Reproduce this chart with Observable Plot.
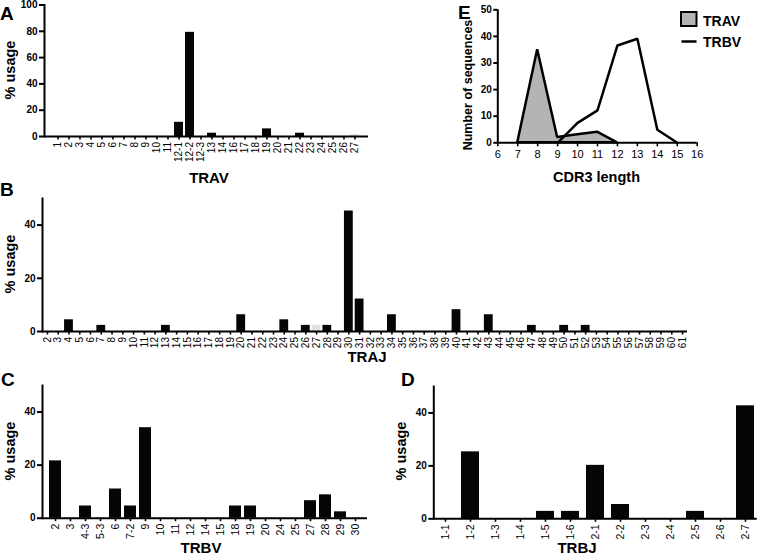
<!DOCTYPE html>
<html><head><meta charset="utf-8">
<script src="https://cdn.jsdelivr.net/npm/d3@7"></script>
<script src="https://cdn.jsdelivr.net/npm/@observablehq/plot@0.6"></script>
<style>
body{margin:0;background:#fff;}
#wrap{position:relative;width:760px;height:555px;overflow:hidden;background:#fff;font-family:"Liberation Sans",Arial,Helvetica,sans-serif;}
.p{position:absolute;}
.p svg{background:transparent;overflow:visible;}
#overlay{position:absolute;left:0;top:0;pointer-events:none;}
</style></head><body><div id="wrap"></div>
<script>
// ---- Panel A: TRAV usage ----
const travCats = ["1","2","3","4","5","6","7","8","9","10","11","12-1","12-2","12-3","13","14","16","17","18","19","20","21","22","23","24","25","26","27"];
const travVals = [0,0,0,0,0,0,0,0,0,0,0,10.8,79.2,0,2.5,0,0,0,0,5.8,0,0,2.5,0,0,0,0,0];
const travFaintCats = ["27"];
const travFaintVals = [1.5];
const usageTicksA = [0,20,40,60,80,100];

// ---- Panel B: TRAJ usage ----
const trajCats = ["2","3","4","5","6","7","8","9","10","11","12","13","14","15","16","17","18","19","20","21","22","23","24","25","26","27","28","29","30","31","32","33","34","35","36","37","38","39","40","41","42","43","44","45","46","47","48","49","50","51","52","53","54","55","56","57","58","59","60","61"];
const trajVals = [0,0,4.4,0,0,2.3,0,0,0,0,0,2.3,0,0,0,0,0,0,6.3,0,0,0,4.4,0,2.3,0,2.3,0,45.3,12.2,0,0,6.3,0,0,0,0,0,8.2,0,0,6.3,0,0,0,2.3,0,0,2.3,0,2.3,0,0,0,0,0,0,0,0,0];
const trajFaintCats = ["27"];
const trajFaintVals = [2.3];
const usageTicks = [0,20,40];

// ---- Panel C: TRBV usage ----
const trbvCats = ["2","3","4-3","5-3","6","7-2","9","10","11","12","14","15","18","19","20","24","25","27","28","29","30"];
const trbvVals = [21.6,0,4.6,0,11.0,4.6,34.1,0,0,0,0,0,4.6,4.6,0,0,0,6.6,8.8,2.4,0];

// ---- Panel D: TRBJ usage ----
const trbjCats = ["1-1","1-2","1-3","1-4","1-5","1-6","2-1","2-2","2-3","2-4","2-5","2-6","2-7"];
const trbjVals = [0,25.3,0,0,2.8,2.8,20.2,5.4,0,0,2.8,0,42.7];

// ---- Panel E: CDR3 length distribution ----
const cdrTravLen = [7,8,9,10,11,12];
const cdrTravN = [0,35,2,3,4,0];
const cdrTrbvLen = [9,10,11,12,13,14,15];
const cdrTrbvN = [0,7.5,12.2,36.6,39.1,4.9,0];
const cdrXTicks = [6,7,8,9,10,11,12,13,14,15,16];
const cdrYTicks = [0,10,20,30,40,50];
const seriesNames = ["TRAV","TRBV"];

const FONT = '"Liberation Sans",Arial,Helvetica,sans-serif';
const wrap = document.getElementById("wrap");

function place(node, left, top, w) {
  const d = document.createElement("div");
  d.className = "p";
  d.style.left = left + "px"; d.style.top = top + "px"; d.style.width = w + "px";
  d.appendChild(node);
  wrap.appendChild(d);
}

function barPanel(cats, vals, faintCats, faintVals, o) {
  const data = cats.map((c, i) => ({c, v: vals[i]}));
  const faint = (faintCats || []).map((c, i) => ({c, v: faintVals[i]}));
  return Plot.plot({
    width: o.width, height: o.height,
    marginLeft: o.ml, marginRight: o.mr, marginTop: o.mt, marginBottom: o.mb,
    x: {domain: cats, paddingInner: o.pad, paddingOuter: o.po, label: null},
    y: {domain: [0, o.ymax], label: null},
    style: {background: "transparent", overflow: "visible", fontFamily: FONT, fontSize: "10px", color: "#000"},
    marks: [
      Plot.barY(faint, {x: "c", y: "v", fill: "#e2e2e2"}),
      Plot.barY(data, {x: "c", y: "v", fill: "#050505"}),
      Plot.ruleY([0], {stroke: "#000", strokeWidth: 2}),
      Plot.frame({anchor: "left", stroke: "#000", strokeWidth: 2}),
      Plot.axisY({ticks: o.yticks, tickSize: 5, tickPadding: 2, strokeWidth: 2, label: null, fontWeight: "bold", fontSize: 10}),
      Plot.axisX({tickRotate: -90, tickSize: 3.5, tickPadding: 2, strokeWidth: 1.6, label: null, fontWeight: "normal", fontSize: o.xfs || 10})
    ]
  });
}

// A
place(barPanel(travCats, travVals, travFaintCats, travFaintVals,
  {width: 380, height: 170, ml: 44, mr: 12, mt: 4.5, mb: 34, pad: 0.2, po: 0.1, ymax: 100, yticks: usageTicksA}), 0, 0, 380);
// B
place(barPanel(trajCats, trajVals, trajFaintCats, trajFaintVals,
  {width: 700, height: 190, ml: 42, mr: 13, mt: 28, mb: 29, pad: 0.18, po: 0.05, ymax: 50, yticks: usageTicks}), 0, 170, 700);
// C
place(barPanel(trbvCats, trbvVals, [], [],
  {width: 380, height: 195, ml: 42, mr: 13, mt: 25, mb: 37.3, pad: 0.2, po: 0.02, ymax: 50, yticks: usageTicks, xfs: 10.5}), 0, 360, 380);
// D
place(barPanel(trbjCats, trbjVals, [], [],
  {width: 380, height: 195, ml: 53.3, mr: 3.3, mt: 26, mb: 36.7, pad: 0.28, po: 0.02, ymax: 50, yticks: usageTicks, xfs: 10.5}), 380, 360, 380);

// E
const travCdr = cdrTravLen.map((x, i) => ({x, n: cdrTravN[i]}));
const trbvCdr = cdrTrbvLen.map((x, i) => ({x, n: cdrTrbvN[i]}));
place(Plot.plot({
  width: 320, height: 170,
  marginLeft: 57.3, marginRight: 63.3, marginTop: 9.3, marginBottom: 27.7,
  x: {domain: [6, 16], label: null},
  y: {domain: [0, 50], label: null},
  style: {background: "transparent", overflow: "visible", fontFamily: FONT, fontSize: "10px", color: "#000"},
  marks: [
    Plot.areaY(travCdr, {x: "x", y: "n", fill: "#b4b4b4", stroke: "#000", strokeWidth: 2.5, strokeLinejoin: "miter"}),
    Plot.lineY(trbvCdr, {x: "x", y: "n", stroke: "#000", strokeWidth: 2.5, strokeLinejoin: "miter"}),
    Plot.ruleY([0], {stroke: "#000", strokeWidth: 2}),
    Plot.ruleX([6], {stroke: "#000", strokeWidth: 2}),
    Plot.axisY({ticks: cdrYTicks, tickSize: 4, tickPadding: 2, strokeWidth: 2, label: null, fontWeight: "bold", fontSize: 10}),
    Plot.axisX({ticks: cdrXTicks, tickSize: 4, tickPadding: 3, strokeWidth: 1.6, label: null, fontWeight: "normal", fontSize: 11})
  ]
}), 440, 0, 320);

// ---- Overlay text: axis titles, panel letters, legend ----
const svg = d3.select(wrap).append("svg").attr("id", "overlay")
  .attr("width", 760).attr("height", 555)
  .style("font-family", FONT).style("font-weight", "bold");

const letters = [["A", 0, 20], ["B", 0, 196], ["C", 1, 386], ["D", 401, 386], ["E", 458, 19]];
letters.forEach(([t, x, y]) => svg.append("text").attr("x", x).attr("y", y).attr("font-size", 19).text(t));

const hTitles = [["TRAV", 209, 183, 15], ["CDR3 length", 596.5, 182, 14.5], ["TRAJ", 367, 362, 15], ["TRBV", 201, 553, 15], ["TRBJ", 577, 553, 15]];
hTitles.forEach(([t, x, y, s]) => svg.append("text").attr("x", x).attr("y", y).attr("font-size", s).attr("text-anchor", "middle").text(t));

const vTitles = [["% usage", 15, 70, 14.5], ["% usage", 15, 264, 14.5], ["% usage", 15, 451, 14.5], ["% usage", 406, 451, 14.5], ["Number of sequences", 472, 85, 12.5]];
vTitles.forEach(([t, x, y, s]) => svg.append("text").attr("transform", `translate(${x},${y}) rotate(-90)`).attr("font-size", s).attr("text-anchor", "middle").text(t));

// legend
const lg = svg.append("g");
lg.append("rect").attr("x", 681).attr("y", 12).attr("width", 15.5).attr("height", 14).attr("fill", "#b4b4b4").attr("stroke", "#000").attr("stroke-width", 2);
lg.append("text").attr("x", 703).attr("y", 25.5).attr("font-size", 14).text(seriesNames[0]);
lg.append("line").attr("x1", 681.5).attr("x2", 696.5).attr("y1", 41.5).attr("y2", 41.5).attr("stroke", "#000").attr("stroke-width", 2.5);
lg.append("text").attr("x", 703).attr("y", 46.5).attr("font-size", 14).text(seriesNames[1]);
</script>
</body></html>
